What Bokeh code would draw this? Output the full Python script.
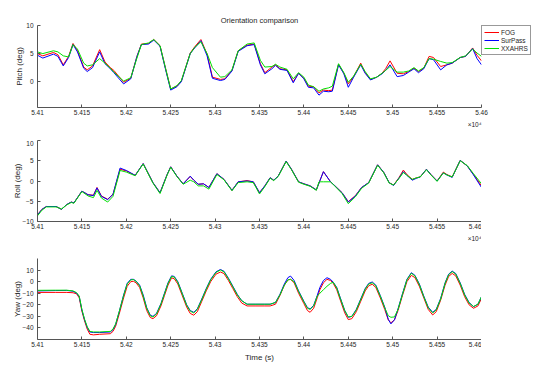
from bokeh.plotting import figure
from bokeh.layouts import column, row
from bokeh.models import (Range1d, FixedTicker, PrintfTickFormatter, Legend, LegendItem, Label,
                          Title, Spacer)
from bokeh.embed import file_html
from bokeh.resources import INLINE

# ---------------- data (time in units of 10^4 s) ----------------
pitch_time = [5.4100, 5.4106, 5.4118, 5.4123, 5.4129, 5.4135, 5.4140, 5.4145, 5.4152, 5.4156,
              5.4162, 5.4170, 5.4176, 5.4182, 5.4186, 5.4197, 5.4205, 5.4212, 5.4217, 5.4225,
              5.4231, 5.4238, 5.4244, 5.4250, 5.4257, 5.4262, 5.4272, 5.4277, 5.4284, 5.4291,
              5.4297, 5.4306, 5.4311, 5.4319, 5.4326, 5.4336, 5.4344, 5.4351, 5.4356,
              5.4364, 5.4368, 5.4373, 5.4381, 5.4388, 5.4394, 5.4400, 5.4405, 5.4411, 5.4417,
              5.4422, 5.4428, 5.4432, 5.4439, 5.4445, 5.4450, 5.4456, 5.4464, 5.4469, 5.4475,
              5.4482, 5.4488, 5.4492, 5.4497, 5.4505, 5.4512, 5.4518, 5.4524, 5.4529, 5.4535,
              5.4541, 5.4546, 5.4554, 5.4561, 5.4567, 5.4576, 5.4582, 5.4590, 5.4595, 5.4600]
pitch_fog = [5.0, 4.6, 5.2, 4.8, 3.0, 4.5, 6.8, 5.5, 2.6, 2.1,
             2.8, 5.7, 3.5, 2.5, 2.0, -0.1, 0.6, 4.5, 6.7, 6.8,
             7.5, 6.4, 2.5, -1.3, -0.8, 0.1, 5.1, 6.2, 7.5, 4.9,
             0.8, 0.4, 0.5, 2.0, 5.5, 6.5, 6.7, 3.2, 1.6,
             2.6, 3.0, 2.3, 2.1, 0.0, 1.5, 0.6, -0.8, -0.9, -2.0,
             -1.5, -1.6, -1.5, 3.1, 1.5, -0.4, 0.9, 3.3, 1.6, 0.4,
             0.8, 1.5, 2.3, 3.7, 1.5, 1.4, 1.8, 2.4, 1.8, 2.4,
             4.5, 4.3, 2.7, 3.0, 3.3, 4.3, 4.5, 6.0, 4.7, 3.7]
pitch_surpass = [4.7, 4.2, 4.9, 4.5, 2.8, 4.3, 6.6, 5.3, 2.4, 1.8,
                 2.5, 5.3, 3.2, 2.3, 1.6, -0.4, 0.5, 4.5, 6.6, 6.7,
                 7.4, 6.3, 2.3, -1.5, -0.9, 0.0, 5.0, 6.0, 7.3, 4.6,
                 0.6, 0.2, 0.4, 1.9, 5.4, 6.4, 6.6, 3.0, 1.4,
                 2.3, 2.9, 2.2, 2.0, -0.2, 1.5, 0.5, -1.0, -1.1, -2.4,
                 -1.7, -1.8, -1.7, 3.0, 1.4, -1.0, 0.8, 3.0, 1.5, 0.3,
                 0.8, 1.4, 2.0, 3.0, 0.9, 1.1, 1.7, 2.3, 1.6, 2.3,
                 4.1, 3.9, 2.1, 3.0, 3.3, 4.3, 4.5, 5.9, 4.1, 3.0]
pitch_xxahrs = [5.3, 5.0, 5.5, 5.3, 4.6, 4.4, 6.6, 5.8, 3.3, 2.8,
                3.0, 4.1, 3.3, 2.4, 1.7, 0.1, 0.7, 4.2, 6.6, 6.9,
                7.5, 6.4, 2.5, -1.3, -0.7, 0.2, 5.0, 6.1, 7.1, 5.0,
                2.5, 0.8, 0.9, 2.1, 5.5, 6.7, 6.9, 3.8, 2.6,
                2.7, 3.1, 2.6, 2.2, 0.5, 1.6, 0.8, -0.6, -0.9, -1.7,
                -1.3, -1.1, -0.8, 3.2, 1.6, -0.1, 1.0, 3.1, 1.8, 0.5,
                0.8, 1.5, 2.0, 2.7, 1.7, 1.7, 1.9, 2.5, 1.9, 2.5,
                4.1, 4.0, 3.6, 3.3, 3.4, 4.3, 4.6, 5.8, 5.1, 4.5]

roll_time = [5.4100, 5.4105, 5.4110, 5.4121, 5.4127, 5.4133, 5.4138, 5.4141, 5.4150, 5.4157,
             5.4163, 5.4167, 5.4172, 5.4179, 5.4185, 5.4193, 5.4200, 5.4210, 5.4219, 5.4230,
             5.4238, 5.4246, 5.4250, 5.4257, 5.4264, 5.4272, 5.4276, 5.4281, 5.4287, 5.4293,
             5.4302, 5.4310, 5.4319, 5.4326, 5.4336, 5.4343, 5.4350, 5.4356,
             5.4362, 5.4366, 5.4371, 5.4380, 5.4386, 5.4394, 5.4400, 5.4407, 5.4414, 5.4417,
             5.4422, 5.4430, 5.4435, 5.4443, 5.4450, 5.4458, 5.4465, 5.4473, 5.4483, 5.4490,
             5.4496, 5.4501, 5.4507, 5.4512, 5.4516, 5.4522, 5.4527, 5.4531, 5.4538, 5.4543,
             5.4550, 5.4557, 5.4561, 5.4567, 5.4576, 5.4584, 5.4591, 5.4600]
roll_fog = [-8.3, -7.0, -6.3, -6.3, -7.0, -5.8, -5.2, -5.4, -2.5, -3.4,
            -3.5, -1.6, -3.7, -4.5, -3.3, 2.9, 2.5, 1.4, 4.3, -0.4,
            -2.9, 1.6, 3.5, 1.2, -0.7, 1.1, 0.2, -0.8, -0.7, -1.6,
            1.8, 0.4, -2.3, -0.2, 0.1, -0.2, -2.9, -1.2,
            0.8, 0.2, 1.2, 4.9, 2.9, -0.2, -0.7, -1.2, -2.2, -0.5,
            2.3, -0.2, -1.2, -2.9, -5.1, -3.6, -1.6, -0.4, 4.0, 2.1,
            -0.4, -1.0, 0.8, 2.7, 1.6, 0.4, 0.8, 1.0, 2.9, 1.6,
            0.0, 2.2, 1.6, 1.0, 5.1, 3.7, 1.6, -1.2]
roll_surpass = [-8.4, -7.0, -6.3, -6.3, -7.0, -5.8, -5.2, -5.4, -2.5, -3.4,
                -3.6, -1.7, -3.8, -4.6, -3.3, 3.2, 2.6, 1.4, 4.3, -0.4,
                -2.9, 1.6, 3.5, 1.2, -0.7, 1.2, 0.2, -0.8, -0.7, -1.6,
                1.8, 0.4, -2.3, -0.2, 0.0, -0.2, -2.9, -1.2,
                0.8, 0.2, 1.2, 4.9, 2.9, -0.2, -0.7, -1.2, -2.2, -0.5,
                2.3, -0.2, -1.2, -2.9, -5.2, -3.7, -1.6, -0.4, 4.0, 2.1,
                -0.4, -1.1, 0.7, 2.3, 1.4, 0.2, 0.7, 1.0, 2.9, 1.6,
                0.0, 2.0, 1.5, 0.9, 5.1, 3.7, 1.5, -1.6]
roll_xxahrs = [-8.6, -7.2, -6.4, -6.4, -6.9, -5.9, -5.3, -5.5, -2.6, -3.7,
               -4.1, -2.3, -4.2, -5.2, -3.8, 2.6, 2.2, 1.3, 4.2, -0.5,
               -3.1, 1.5, 3.4, 1.1, -0.8, 0.2, -0.2, -1.2, -1.2, -2.0,
               1.6, 0.3, -2.4, -0.4, -0.2, -0.4, -3.2, -1.4,
               0.7, 0.1, 1.1, 4.8, 2.8, -0.3, -0.8, -1.3, -2.3, -0.2,
               -0.2, -0.2, -1.3, -3.1, -5.6, -3.9, -1.8, -0.5, 3.9, 2.0,
               -0.5, -1.0, 0.6, 2.1, 1.4, 0.4, 0.8, 1.0, 2.8, 1.5,
               -0.1, 2.0, 1.5, 1.0, 5.0, 3.8, 1.8, -0.7]

yaw_time = [5.4100, 5.4120, 5.4133, 5.4140, 5.4144, 5.4147, 5.4150, 5.4153, 5.4156, 5.4159,
            5.4163, 5.4170, 5.4182, 5.4185, 5.4188, 5.4192, 5.4197, 5.4201, 5.4205, 5.4208,
            5.4211, 5.4215, 5.4219, 5.4223, 5.4227, 5.4230, 5.4234, 5.4239, 5.4243, 5.4247,
            5.4251, 5.4254, 5.4258, 5.4263, 5.4268, 5.4272, 5.4276, 5.4280, 5.4285, 5.4290,
            5.4295, 5.4301, 5.4306, 5.4310, 5.4315, 5.4320, 5.4325, 5.4330, 5.4336, 5.4345,
            5.4356, 5.4362, 5.4368, 5.4373, 5.4378, 5.4382, 5.4385, 5.4389, 5.4394, 5.4400,
            5.4404, 5.4407, 5.4411, 5.4415, 5.4418, 5.4422, 5.4426, 5.4430, 5.4433, 5.4437,
            5.4441, 5.4446, 5.4450, 5.4454, 5.4459, 5.4464, 5.4469, 5.4473, 5.4477, 5.4481,
            5.4486, 5.4491, 5.4495, 5.4498, 5.4502, 5.4506, 5.4511, 5.4516, 5.4521, 5.4525,
            5.4530, 5.4535, 5.4540, 5.4545, 5.4549, 5.4554, 5.4559, 5.4563, 5.4567, 5.4571,
            5.4576, 5.4581, 5.4586, 5.4591, 5.4596, 5.4600]
yaw_fog = [-9.3, -9.3, -9.3, -9.6, -10.5, -14, -25.5, -34, -41, -45.5,
           -46, -45.5, -45, -43, -38.5, -28, -14, -4, 0, 0.3,
           -1, -5, -14, -25, -31, -32, -29.5, -21, -12, -3,
           3.3, 2.5, -2, -12, -22, -27.5, -29, -26, -17, -8,
           0, 6.5, 8.3, 7, 1, -6, -13, -18.5, -21, -21,
           -21, -21, -19.5, -12, -3, 1.5, 2, -1, -10, -19,
           -25, -26.5, -23, -14, -7, -1, 2, 1, -1.5, -7,
           -16, -27, -32.8, -32, -26, -17, -8, -3.5, -2.3, -5,
           -14, -24, -33, -35.6, -33, -25, -12, 0, 5.4, 3.5,
           -4, -14, -24, -28.8, -26, -16, -3, 4.5, 7.1, 5,
           -3, -13, -20, -23, -21, -14.5]
yaw_surpass = [-8.0, -7.7, -7.6, -8.3, -10, -13, -24.5, -33, -39.5, -43.5,
               -44, -44, -43.5, -41.5, -37, -26, -11.5, -1.5, 2, 2.0,
               0.5, -3, -11.5, -22.5, -29, -30, -27.5, -19, -10, -1,
               5.0, 4.5, 0, -10, -20, -25, -26.5, -23.5, -15, -6,
               2, 8.5, 10.5, 9, 3, -4, -11, -16.5, -19.5, -19.5,
               -19.5, -19.5, -18, -11, -2, 3.5, 4.8, 1, -8, -17,
               -22.5, -23.6, -20.5, -12, -5, 1, 3.4, 2, -0.5, -5,
               -14, -25, -30.8, -30, -24, -15, -6, -1.5, -0.3, -3,
               -12, -22, -32.5, -36.5, -33, -23.5, -10.5, 2, 7.7, 5.5,
               -2, -12.5, -22, -26.5, -24, -14.5, -1, 6.5, 9.1, 7,
               -1, -11, -18, -21.6, -19.5, -13]
yaw_xxahrs = [-7.5, -7.4, -7.4, -8.0, -9.5, -12.5, -24, -32.5, -39, -43,
              -43.5, -43.5, -43, -41, -36.5, -26, -12, -2, 1.5, 1.8,
              0.3, -3.5, -12.5, -23, -29.5, -30.5, -28, -19.5, -10.5, -1.5,
              4.5, 4, -0.5, -10.5, -20.5, -25.5, -27, -24, -15.5, -6.5,
              1.5, 8, 10, 8.5, 2.5, -4.5, -11.5, -16.5, -19.5, -19.5,
              -19.5, -19.5, -18, -11.5, -3, 1.5, 2, 0, -8.5, -17.5,
              -23, -24, -21, -12.5, -10, -7, -4, -1.5, -0.5, -5.5,
              -14.5, -25, -30.5, -30, -24.5, -15.5, -6.5, -2, -1, -3.5,
              -12.5, -22.5, -29.5, -30.8, -30.5, -24, -11, 1.5, 7.2, 5,
              -2.5, -13, -22.5, -27, -24.5, -15, -1.5, 6, 8.7, 6.5,
              -1.5, -11.5, -18.5, -21.5, -19.5, -13]

series_names = ["FOG", "SurPass", "XXAHRS"]
series_colors = ["#ff0000", "#0000ff", "#00e000"]

x_ticks = [5.41, 5.415, 5.42, 5.425, 5.43, 5.435, 5.44, 5.445, 5.45, 5.455, 5.46]
pitch_ticks = [0, 5, 10]
roll_ticks = [-10, -5, 0, 5, 10]
yaw_ticks = [-40, -30, -20, -10, 0, 10]

FONT = "Liberation Sans"
TXT = "#262626"
AX = "#555555"

x_range = Range1d(5.41, 5.46)


def make_fig(yr, yticks, ylabel, fh, label_standoff):
    p = figure(frame_width=444, frame_height=fh, x_range=x_range, y_range=Range1d(*yr),
               output_backend="svg", toolbar_location=None, min_border=0,
               background_fill_color="white", border_fill_color="white")
    p.outline_line_color = None
    p.grid.visible = False
    for ax in (p.xaxis[0], p.yaxis[0]):
        ax.axis_line_color = AX
        ax.major_tick_line_color = AX
        ax.major_tick_in = 3
        ax.major_tick_out = 0
        ax.minor_tick_line_color = None
        ax.major_label_text_font = FONT
        ax.major_label_text_font_size = "6.5px"
        ax.major_label_text_color = TXT
        ax.axis_label_text_font = FONT
        ax.axis_label_text_font_size = "8px"
        ax.axis_label_text_font_style = "normal"
        ax.axis_label_text_color = TXT
    p.xaxis.ticker = FixedTicker(ticks=x_ticks)
    p.xaxis.formatter = PrintfTickFormatter(format="%.4g")
    p.xaxis.major_label_standoff = 2
    p.yaxis.ticker = FixedTicker(ticks=yticks)
    p.yaxis.major_label_standoff = 4
    p.yaxis.axis_label = ylabel
    p.yaxis.axis_label_standoff = label_standoff
    return p


def exponent_title(p):
    p.add_layout(Title(text="×10⁴", align="right", text_font=FONT, text_font_size="6.5px",
                       text_font_style="normal", text_color=TXT, standoff=3), "below")


def draw(p, t, ys):
    rs = []
    for y, c in zip(ys, series_colors):
        rs.append(p.line(t, y, line_color=c, line_width=1))
    return rs


p1 = make_fig((-4.6, 10), pitch_ticks, "Pitch (deg)", 82, -1)
r1 = draw(p1, pitch_time, [pitch_fog, pitch_surpass, pitch_xxahrs])
p1.title.text = "Orientation comparison"
p1.title.align = "center"
p1.title.text_font = FONT
p1.title.text_font_size = "7.5px"
p1.title.text_font_style = "normal"
p1.title.text_color = TXT
p1.title.standoff = 2
exponent_title(p1)
legend = Legend(items=[LegendItem(label=n, renderers=[r]) for n, r in zip(series_names, r1)],
                location="top_left", margin=0, padding=2, spacing=0,
                glyph_width=15, glyph_height=8, label_height=8, label_standoff=2,
                label_text_font=FONT, label_text_font_size="6.5px", label_text_color=TXT,
                border_line_color="#333333", border_line_width=1, background_fill_color="white")
p1.add_layout(legend, "right")

p2 = make_fig((-10, 10), roll_ticks, "Roll (deg)", 81, -3)
draw(p2, roll_time, [roll_fog, roll_surpass, roll_xxahrs])
exponent_title(p2)

p3 = make_fig((-50, 20), yaw_ticks, "Yaw (deg)", 81, -3)
draw(p3, yaw_time, [yaw_fog, yaw_surpass, yaw_xxahrs])
p3.xaxis.axis_label = "Time (s)"
p3.xaxis.axis_label_standoff = 3
p3.add_layout(Label(x=5.46, y=-50, x_units="data", y_units="data", text="×10⁴",
                    x_offset=-9, y_offset=-17, text_align="center", text_baseline="middle",
                    text_font=FONT, text_font_size="6.5px", text_color=TXT))

stack = column(Spacer(width=10, height=12), p1, Spacer(width=10, height=11), p2,
               Spacer(width=10, height=15), p3, spacing=0)
layout = row(Spacer(width=10, height=10), stack, spacing=0)
open("out.html", "w").write(file_html(layout, INLINE))
